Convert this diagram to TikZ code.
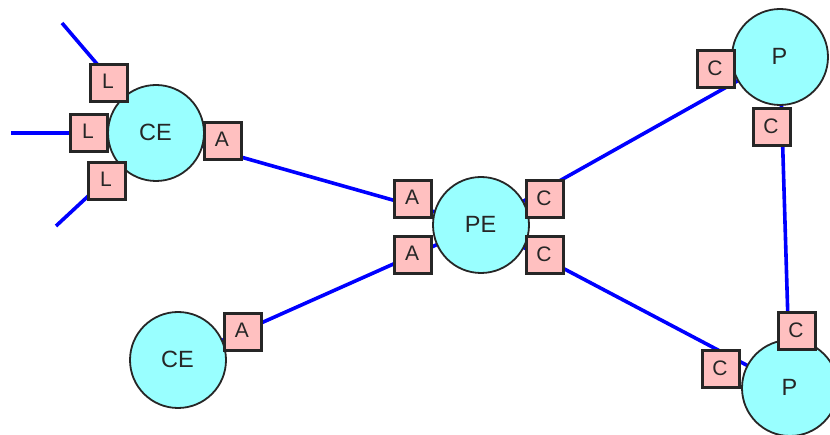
\documentclass[tikz,border=0pt]{standalone}
\usepackage{fontspec}
\setmainfont{Liberation Sans}
\usetikzlibrary{backgrounds}
\newcommand{\boxlbl}[1]{\hspace*{-2pt}\raisebox{2.5pt}{#1}}
\newcommand{\circlbl}[1]{\hspace*{-1pt}\raisebox{1.5pt}{#1}}
\definecolor{devfill}{HTML}{99FFFF}
\definecolor{portfill}{HTML}{FFC0C0}
\definecolor{outline}{HTML}{262626}
\tikzset{
  device/.style={circle,draw=outline,fill=devfill,line width=1.8pt,minimum size=96pt,inner sep=0pt,font=\fontsize{23.5}{24}\selectfont,text=outline},
  port/.style={rectangle,draw=outline,fill=portfill,line width=2.2pt,minimum size=37pt,inner sep=0pt,font=\fontsize{21}{21}\selectfont,text=outline},
  link/.style={draw=blue,line width=3.6pt}
}
\begin{document}
\begin{tikzpicture}[x=1pt,y=-1pt]
\useasboundingbox (0,0) rectangle (830,435);
% devices
\node[device] (ce1) at (156,133) {\circlbl{CE}};
\node[device] (ce2) at (178,360) {\circlbl{CE}};
\node[device] (pe) at (481,225) {\circlbl{PE}};
\node[device] (p1) at (780,57) {\circlbl{P}};
\node[device] (p2) at (790,388) {\circlbl{P}};
% ports
\node[port] (l1) at (109,83) {\boxlbl{L}};
\node[port] (l2) at (89,133) {\boxlbl{L}};
\node[port] (l3) at (107,181) {\boxlbl{L}};
\node[port] (a1) at (223,141) {\boxlbl{A}};
\node[port] (a2) at (243,332) {\boxlbl{A}};
\node[port] (a3) at (413,199) {\boxlbl{A}};
\node[port] (a4) at (413,255) {\boxlbl{A}};
\node[port] (c1) at (545,199) {\boxlbl{C}};
\node[port] (c2) at (545,255) {\boxlbl{C}};
\node[port] (c3) at (716,69) {\boxlbl{C}};
\node[port] (c4) at (772,127) {\boxlbl{C}};
\node[port] (c5) at (721,369) {\boxlbl{C}};
\node[port] (c6) at (797,331) {\boxlbl{C}};
% free ends
\coordinate (e1) at (62,23);
\coordinate (e2) at (11,133);
\coordinate (e3) at (56,226);
% links behind everything
\begin{scope}[on background layer]
\fill[white] (0,0) rectangle (830,435);
\draw[link] (e1) -- (ce1.center);
\draw[link] (e2) -- (ce1.center);
\draw[link] (e3) -- (ce1.center);
\draw[link] (ce1.center) -- (pe.center);
\draw[link] (ce2.center) -- (pe.center);
\draw[link] (pe.center) -- (p1.center);
\draw[link] (pe.center) -- (p2.center);
\draw[link] (p1.center) -- (p2.center);
\end{scope}
\end{tikzpicture}
\end{document}
